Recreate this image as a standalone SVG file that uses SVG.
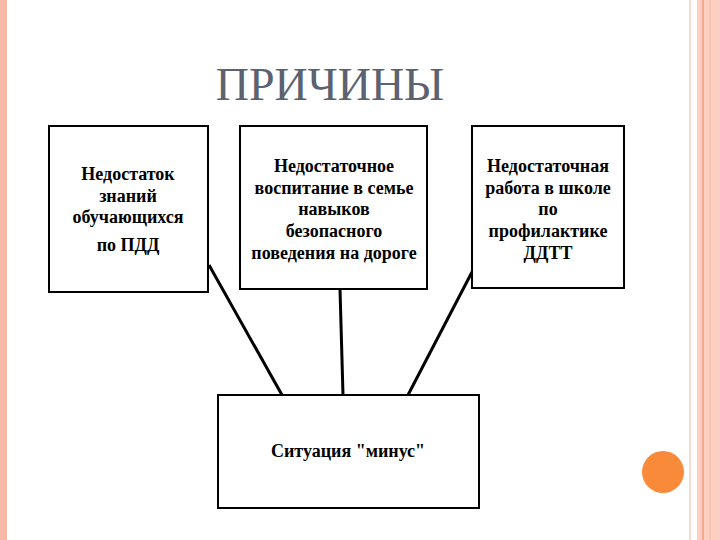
<svg xmlns="http://www.w3.org/2000/svg" width="720" height="540" viewBox="0 0 720 540">
<style>
.b{fill:#fff;stroke:#000;stroke-width:2}
.t{font-family:"Times New Roman","Liberation Serif","DejaVu Serif",serif;font-weight:bold;font-size:18px;text-anchor:middle;fill:#000}
.c{stroke:#000;stroke-width:3;fill:none}
</style>
<rect width="720" height="540" fill="#fff"/>
<rect x="0" y="0" width="7" height="540" fill="#f6b9a8"/>
<line x1="690" y1="0" x2="690" y2="540" stroke="#f3d2c6" stroke-width="1.5"/>
<rect x="697" y="0" width="23" height="540" fill="#fbd0c2"/>
<line x1="703" y1="0" x2="703" y2="540" stroke="#f19a80" stroke-width="1.5"/>
<line x1="710" y1="0" x2="710" y2="540" stroke="#f6b5a2" stroke-width="1"/>
<circle cx="663" cy="472" r="21" fill="#f88a3a"/>
<text x="330" y="100" font-family="'Times New Roman','Liberation Serif','DejaVu Serif',serif" font-size="46" fill="#5b6270" text-anchor="middle">ПРИЧИНЫ</text>
<g id="connectors">
<line class="c" x1="209" y1="265" x2="282" y2="395"/>
<line class="c" x1="340" y1="289" x2="343" y2="395"/>
<line class="c" x1="472" y1="272" x2="408" y2="395"/>
</g>
<g id="n1"><rect class="b" x="49" y="126" width="159" height="166"/>
<text class="t"><tspan x="128" y="180">Недостаток</tspan><tspan x="128" y="202">знаний</tspan><tspan x="128" y="223">обучающихся</tspan><tspan x="128" y="251">по ПДД</tspan></text></g>
<g id="n2"><rect class="b" x="240" y="126" width="187" height="163"/>
<text class="t"><tspan x="334" y="172">Недостаточное</tspan><tspan x="334" y="194">воспитание в семье</tspan><tspan x="334" y="215">навыков</tspan><tspan x="334" y="237">безопасного</tspan><tspan x="334" y="259">поведения на дороге</tspan></text></g>
<g id="n3"><rect class="b" x="472" y="126" width="152" height="162"/>
<text class="t"><tspan x="548" y="172">Недостаточная</tspan><tspan x="548" y="194">работа в школе</tspan><tspan x="548" y="215">по</tspan><tspan x="548" y="237">профилактике</tspan><tspan x="548" y="259">ДДТТ</tspan></text></g>
<g id="n4"><rect class="b" x="218" y="395" width="261" height="113"/>
<text class="t" x="348" y="457">Ситуация "минус"</text></g>
</svg>
